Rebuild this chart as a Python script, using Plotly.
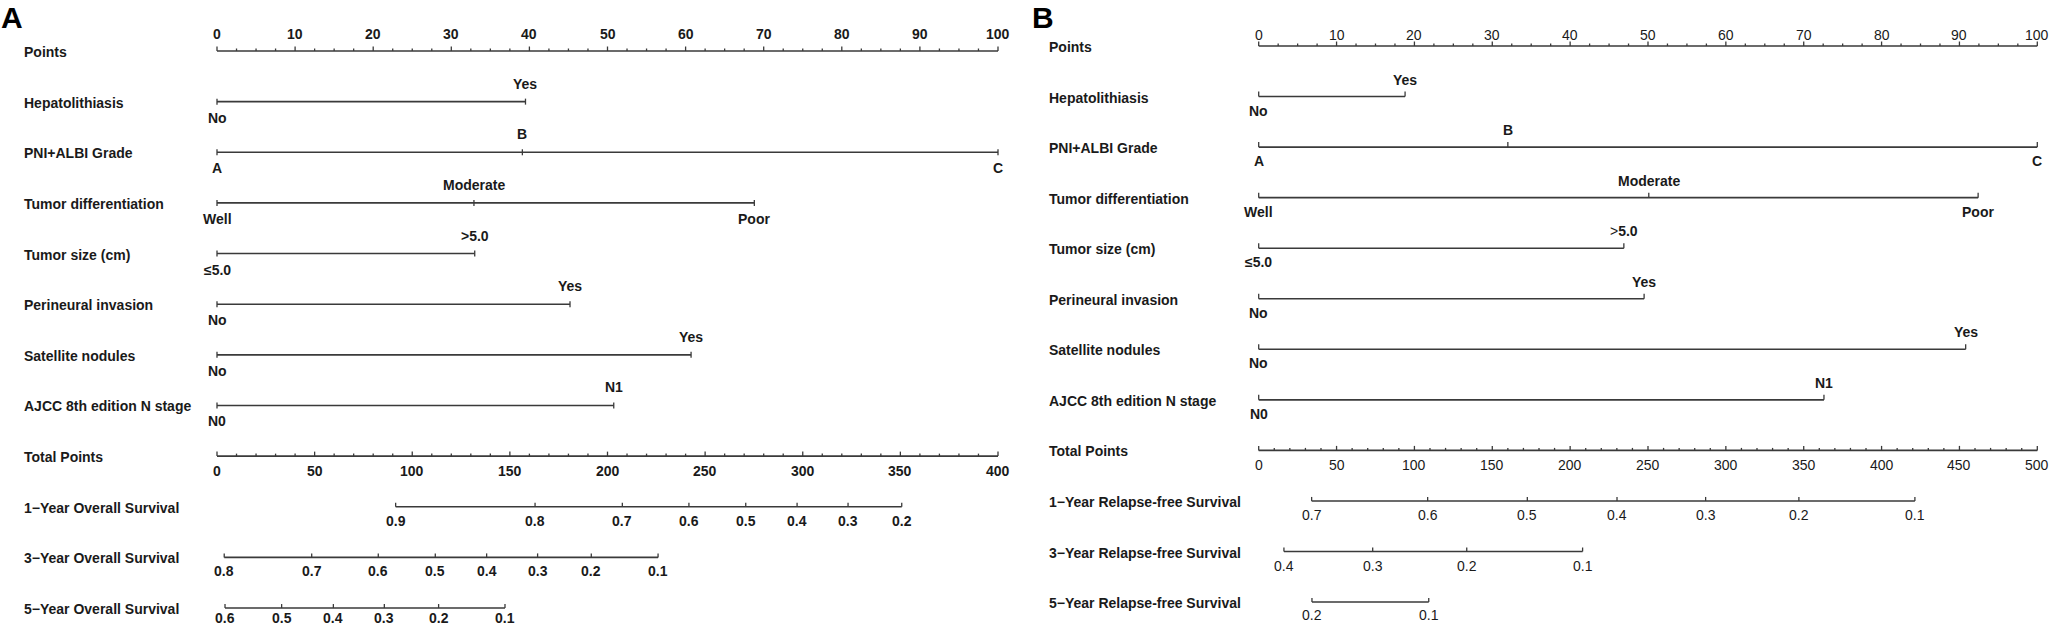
import plotly.graph_objects as go

# ------------------------------------------------------------------
# DATA
# ------------------------------------------------------------------
ROW_LABELS_A = ["Points", "Hepatolithiasis", "PNI+ALBI Grade", "Tumor differentiation",
                "Tumor size (cm)", "Perineural invasion", "Satellite nodules",
                "AJCC 8th edition N stage", "Total Points",
                "1\u2212Year Overall Survival", "3\u2212Year Overall Survival",
                "5\u2212Year Overall Survival"]
ROW_LABELS_B = ["Points", "Hepatolithiasis", "PNI+ALBI Grade", "Tumor differentiation",
                "Tumor size (cm)", "Perineural invasion", "Satellite nodules",
                "AJCC 8th edition N stage", "Total Points",
                "1\u2212Year Relapse-free Survival", "3\u2212Year Relapse-free Survival",
                "5\u2212Year Relapse-free Survival"]

hep_levels = ["No", "Yes"]
pni_levels = ["A", "B", "C"]
diff_levels = ["Well", "Moderate", "Poor"]
size_levels_A = ["\u22645.0", ">5.0"]
size_levels_B = ["\u22645.0", "<span style='font-weight:400'>&gt;</span>5.0"]
perineural_levels = ["No", "Yes"]
satellite_levels = ["No", "Yes"]
nstage_levels = ["N0", "N1"]

# points per level, panel A (overall survival)
hep_pts_A = [0, 39.5]
pni_pts_A = [0, 39.1, 100]
diff_pts_A = [0, 32.9, 68.8]
size_pts_A = [0, 33.0]
perineural_pts_A = [0, 45.2]
satellite_pts_A = [0, 60.7]
nstage_pts_A = [0, 50.8]

# points per level, panel B (relapse-free survival)
hep_pts_B = [0, 18.8]
pni_pts_B = [0, 32.0, 100]
diff_pts_B = [0, 50.1, 92.4]
size_pts_B = [0, 46.9]
perineural_pts_B = [0, 49.5]
satellite_pts_B = [0, 90.8]
nstage_pts_B = [0, 72.6]

# total points scales
total_max_A = 400
total_max_B = 500

# survival probabilities and their total-point positions
os1_prob = [0.9, 0.8, 0.7, 0.6, 0.5, 0.4, 0.3, 0.2]
os1_tp = [91.5, 162.9, 207.6, 241.7, 270.8, 297.1, 323.2, 350.7]
os3_prob = [0.8, 0.7, 0.6, 0.5, 0.4, 0.3, 0.2, 0.1]
os3_tp = [3.7, 48.5, 82.6, 111.8, 138.1, 164.2, 191.7, 225.9]
os5_prob = [0.6, 0.5, 0.4, 0.3, 0.2, 0.1]
os5_tp = [4.1, 33.1, 59.6, 85.7, 113.5, 147.5]

rfs1_prob = [0.7, 0.6, 0.5, 0.4, 0.3, 0.2, 0.1]
rfs1_tp = [34.0, 108.5, 172.5, 230.1, 287.0, 346.9, 421.4]
rfs3_prob = [0.4, 0.3, 0.2, 0.1]
rfs3_tp = [16.2, 73.2, 133.6, 208.0]
rfs5_prob = [0.2, 0.1]
rfs5_tp = [34.2, 109.2]

# ------------------------------------------------------------------
# LAYOUT / STYLE
# ------------------------------------------------------------------
W, H = 2055, 626
FONT = "Liberation Sans, Arial, Helvetica, sans-serif"
LINE_COLOR = "#3a3a3a"
TEXT_COLOR = "#1a1a1a"
FS = 14

panels = [
    dict(name="A", xa="x", px0=217.0, px100=998.0, dom=(0, 1027), top=51.0, step=50.64,
         rows=ROW_LABELS_A, label_px=22,
         variables=[(hep_levels, hep_pts_A), (pni_levels, pni_pts_A), (diff_levels, diff_pts_A),
                    (size_levels_A, size_pts_A), (perineural_levels, perineural_pts_A),
                    (satellite_levels, satellite_pts_A), (nstage_levels, nstage_pts_A)],
         tmax=total_max_A,
         surv=[(os1_prob, os1_tp), (os3_prob, os3_tp), (os5_prob, os5_tp)],
         num_weight="bold", pts_lab_up=17, up=18, down=16, tp_down=15, surv_down=[14, 14, 10],
         var_tick=(-3, 3), letter_px=0),
    dict(name="B", xa="x2", px0=1258.7, px100=2037.3, dom=(1030, 2055), top=46.0, step=50.55,
         rows=ROW_LABELS_B, label_px=1047,
         variables=[(hep_levels, hep_pts_B), (pni_levels, pni_pts_B), (diff_levels, diff_pts_B),
                    (size_levels_B, size_pts_B), (perineural_levels, perineural_pts_B),
                    (satellite_levels, satellite_pts_B), (nstage_levels, nstage_pts_B)],
         tmax=total_max_B,
         surv=[(rfs1_prob, rfs1_tp), (rfs3_prob, rfs3_tp), (rfs5_prob, rfs5_tp)],
         num_weight="normal", pts_lab_up=11, up=17, down=14, tp_down=15, surv_down=[14, 14, 13],
         var_tick=(-5, 0), letter_px=1031),
]

fig = go.Figure()
annotations = []


def fmt(v):
    s = f"{v:.1f}" if abs(v - round(v)) > 1e-9 else f"{int(round(v))}"
    return s


def add_text(xa, x, y, text, weight="bold", yshift=0, xanchor="center", size=FS):
    annotations.append(dict(xref=xa, yref="y", x=x, y=y, text=text, showarrow=False,
                            xanchor=xanchor, yanchor="middle", yshift=yshift,
                            font=dict(family=FONT, size=size, color=TEXT_COLOR, weight=weight)))


for p in panels:
    xa = p["xa"]
    rowy = [p["top"] + p["step"] * i for i in range(12)]
    lx, ly = [], []      # main lines
    tx, ty = [], []      # ticks

    def seg(xs, ys, x0, y0, x1, y1):
        xs += [x0, x1, None]
        ys += [y0, y1, None]

    # --- Points axis (row 0) ---
    y0 = rowy[0]
    seg(lx, ly, 0, y0, 100, y0)
    k = 0
    while k * 2.5 <= 100 + 1e-9:
        v = k * 2.5
        major = (k % 4 == 0)
        seg(tx, ty, v, y0, v, y0 - (4.5 if major else 2.5))
        if major:
            add_text(xa, v, y0, fmt(v), weight=p["num_weight"], yshift=p["pts_lab_up"])
        k += 1

    # --- Variable rows ---
    for i, (levels, pts) in enumerate(p["variables"]):
        y = rowy[i + 1]
        seg(lx, ly, min(pts), y, max(pts), y)
        for j, (lev, v) in enumerate(zip(levels, pts)):
            a, b = p["var_tick"]
            seg(tx, ty, v, y + a, v, y + b)
            if j % 2 == 0:
                add_text(xa, v, y, lev, yshift=-p["down"])
            else:
                add_text(xa, v, y, lev, yshift=p["up"])

    # --- Total points (row 8) ---
    y = rowy[8]
    tfac = 100.0 / p["tmax"]
    seg(lx, ly, 0, y, 100, y)
    for t in range(0, p["tmax"] + 1, 10):
        major = (t % 50 == 0)
        seg(tx, ty, t * tfac, y, t * tfac, y - (4.5 if major else 2.5))
        if major:
            add_text(xa, t * tfac, y, fmt(t), weight=p["num_weight"], yshift=-p["tp_down"])

    # --- Survival rows (9-11) ---
    for i, (probs, tps) in enumerate(p["surv"]):
        y = rowy[9 + i]
        xs = [t * tfac for t in tps]
        seg(lx, ly, min(xs), y, max(xs), y)
        for pr, xv in zip(probs, xs):
            seg(tx, ty, xv, y, xv, y - 4)
            add_text(xa, xv, y, fmt(pr), weight=p["num_weight"], yshift=-p["surv_down"][i])

    # --- Row labels ---
    for i, lab in enumerate(p["rows"]):
        annotations.append(dict(xref="paper", yref="y", x=p["label_px"] / W, y=rowy[i] + 1,
                                text=lab, showarrow=False, xanchor="left", yanchor="middle",
                                font=dict(family=FONT, size=FS, color=TEXT_COLOR, weight="bold")))

    # --- Panel letter ---
    annotations.append(dict(xref="paper", yref="paper", x=p["letter_px"] / W, y=1.0,
                            text=p["name"], showarrow=False, xanchor="left", yanchor="top",
                            borderpad=0,
                            font=dict(family=FONT, size=30, color="#000000", weight="bold")))

    fig.add_trace(go.Scatter(x=lx, y=ly, mode="lines", xaxis=xa, yaxis="y",
                             line=dict(color=LINE_COLOR, width=1.6), hoverinfo="skip",
                             showlegend=False))
    fig.add_trace(go.Scatter(x=tx, y=ty, mode="lines", xaxis=xa, yaxis="y",
                             line=dict(color=LINE_COLOR, width=1.3), hoverinfo="skip",
                             showlegend=False))


def xrange(p):
    scale = (p["px100"] - p["px0"]) / 100.0
    return [(p["dom"][0] - p["px0"]) / scale, (p["dom"][1] - p["px0"]) / scale]


pa, pb = panels
fig.update_layout(
    width=W, height=H, autosize=False,
    margin=dict(l=0, r=0, t=0, b=0, pad=0),
    paper_bgcolor="white", plot_bgcolor="white",
    showlegend=False,
    annotations=annotations,
    xaxis=dict(domain=[pa["dom"][0] / W, pa["dom"][1] / W], range=xrange(pa), visible=False,
               anchor="y"),
    xaxis2=dict(domain=[pb["dom"][0] / W, pb["dom"][1] / W], range=xrange(pb), visible=False,
                anchor="y"),
    yaxis=dict(domain=[0, 1], range=[H, 0], visible=False),
)

fig.write_html("out.html", config={"displayModeBar": False, "staticPlot": True},
               post_script="document.body.style.margin='0px';document.body.style.overflow='hidden';")
